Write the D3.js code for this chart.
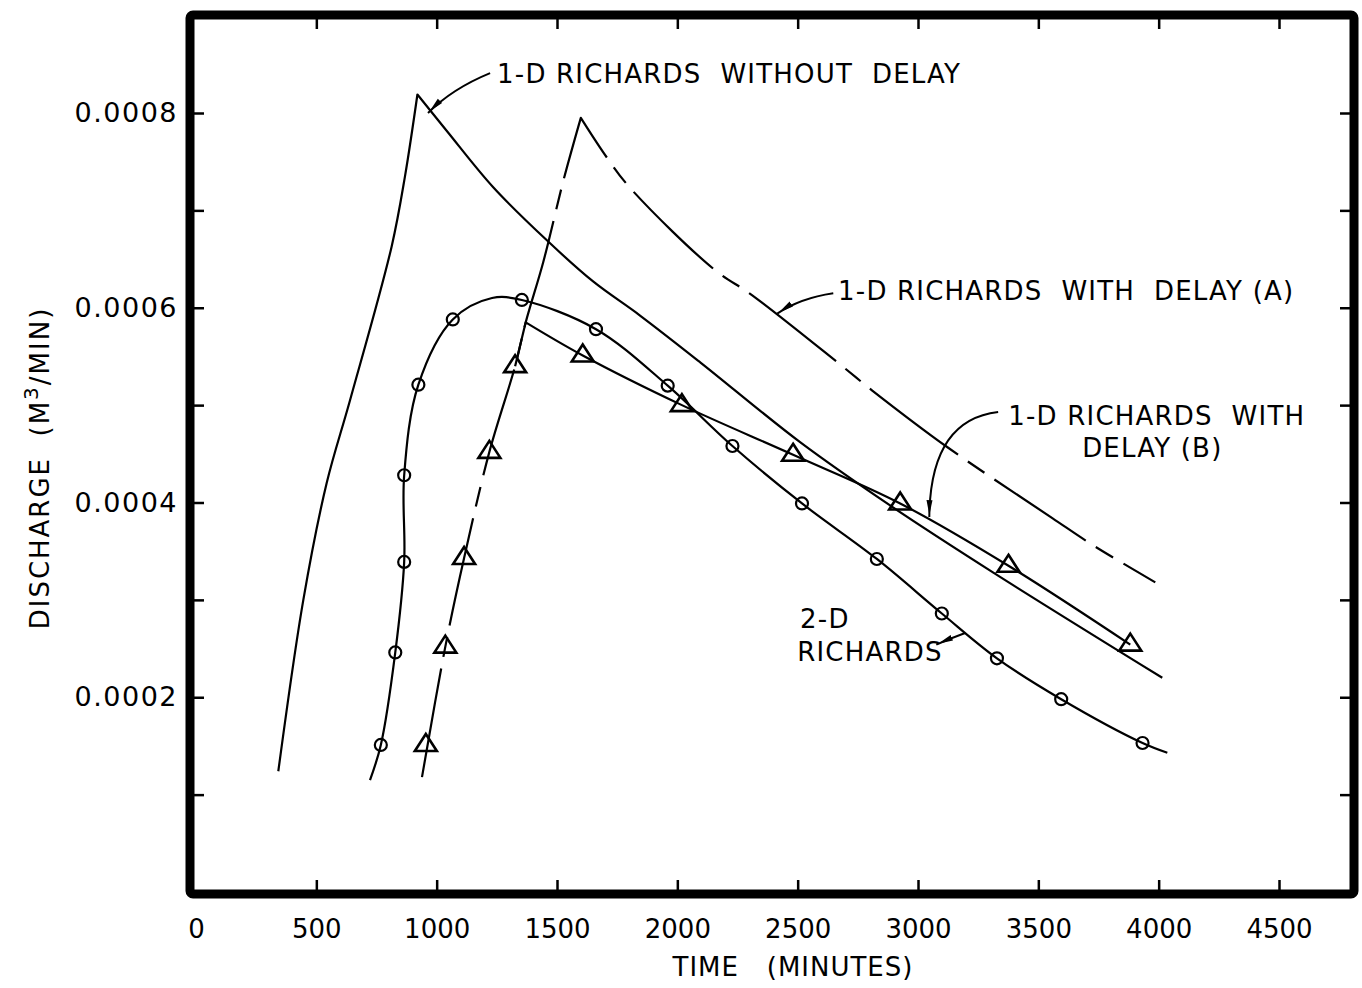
<!DOCTYPE html>
<html>
<head>
<meta charset="utf-8">
<script src="https://cdn.jsdelivr.net/npm/d3@7"></script>
<style>
  body { margin: 0; background: #fff; }
  svg text { font-family: "DejaVu Sans", sans-serif; fill: #000; white-space: pre; }
</style>
</head>
<body>
<svg id="chart" width="1362" height="988"></svg>
<script>
// time (minutes), discharge (m3/min)
var noDelay = [
  [342, 0.000124], [446, 0.000300], [543, 0.000420], [640, 0.000505], [813, 0.000663],
  [869, 0.000736], [920, 0.000819], [1044, 0.000781], [1234, 0.000724], [1459, 0.000669],
  [1650, 0.000627], [1845, 0.000592], [2095, 0.000544], [2510, 0.000462], [2884, 0.000397],
  [3313, 0.000328], [4015, 0.000220]
];

var delayA = [
  [939, 0.000118], [1036, 0.000252], [1114, 0.000343], [1219, 0.000452], [1326, 0.000540],
  [1370, 0.000585], [1443, 0.000647], [1527, 0.000731], [1599, 0.000795], [1708, 0.000754],
  [1804, 0.000723], [2150, 0.000640], [2310, 0.000613], [2670, 0.000543], [2810, 0.000515],
  [3121, 0.000457], [3558, 0.000384], [3728, 0.000356], [3986, 0.000318]
];

// delay (B): the rise runs along the dashed (A) line, only the fall is drawn solid
var delayBRise = [[955, 0.000151], [1036, 0.000252], [1114, 0.000343], [1219, 0.000452], [1326, 0.000540]];
var delayBPeak = [1370, 0.000585];
var delayBFall = [[1607, 0.000551], [2019, 0.000500], [2481, 0.000449], [2926, 0.000399], [3376, 0.000335], [3882, 0.000254]];

// 2-D richards: [time, discharge, has marker]
var twoD = [
  [723, 0.000115, 0], [768, 0.000151, 1], [828, 0.000246, 1], [865, 0.000339, 1], [865, 0.000428, 1],
  [924, 0.000521, 1], [1067, 0.000588, 1], [1230, 0.000610, 0], [1354, 0.000608, 1], [1662, 0.000578, 1],
  [1960, 0.000520, 1], [2229, 0.000458, 1], [2518, 0.000399, 1], [2829, 0.000342, 1], [3099, 0.000286, 1],
  [3328, 0.000240, 1], [3595, 0.000198, 1], [3933, 0.000153, 1], [4036, 0.000143, 0]
];

var xTicks = [0, 500, 1000, 1500, 2000, 2500, 3000, 3500, 4000, 4500];
var yTicks = [0.0001, 0.0002, 0.0003, 0.0004, 0.0005, 0.0006, 0.0007, 0.0008];
var yLabelled = [0.0002, 0.0004, 0.0006, 0.0008];

var svg = d3.select("#chart");
var frame = {left: 190, top: 15, right: 1354, bottom: 894};

var x = d3.scaleLinear().domain([0, 4500]).range([196, 1279]);
var y = d3.scaleLinear().domain([0, 0.0008]).range([892, 113]);

var defs = svg.append("defs");
defs.append("marker")
    .attr("id", "arrow")
    .attr("viewBox", "0 -4 15 8")
    .attr("refX", 17).attr("refY", 0)
    .attr("markerWidth", 15).attr("markerHeight", 8)
    .attr("markerUnits", "userSpaceOnUse")
    .attr("orient", "auto")
  .append("path")
    .attr("d", "M0,-3L15,0L0,3Z")
    .attr("fill", "#000");

// axes: ticks point inward, frame drawn on top
function tidy(g) {
  g.select(".domain").remove();
  g.selectAll(".tick line").attr("stroke-width", 2.5);
}

svg.append("g")
    .attr("transform", "translate(" + frame.left + ",0)")
    .call(d3.axisLeft(y).tickValues(yTicks).tickSize(-14).tickPadding(12)
      .tickFormat(function(d) {
        return yLabelled.some(function(v) { return Math.abs(v - d) < 1e-9; }) ? d.toFixed(4) : "";
      }))
    .call(tidy)
    .selectAll("text")
    .style("font-size", "27px")
    .style("letter-spacing", "1.5px");

svg.append("g")
    .attr("transform", "translate(" + frame.right + ",0)")
    .call(d3.axisRight(y).tickValues(yTicks).tickSize(-14).tickFormat(""))
    .call(tidy);

var bottom = svg.append("g")
    .attr("transform", "translate(0," + frame.bottom + ")")
    .call(d3.axisBottom(x).tickValues(xTicks).tickSize(-14).tickPadding(26).tickFormat(d3.format("d")))
    .call(tidy);
bottom.selectAll(".tick").filter(function(d) { return d === 0; }).select("line").remove();
bottom.selectAll("text").style("font-size", "26px");

svg.append("g")
    .attr("transform", "translate(0," + frame.top + ")")
    .call(d3.axisTop(x).tickValues(xTicks.slice(1)).tickSize(-14).tickFormat(""))
    .call(tidy);

svg.append("rect")
    .attr("x", frame.left).attr("y", frame.top)
    .attr("width", frame.right - frame.left)
    .attr("height", frame.bottom - frame.top)
    .attr("rx", 3)
    .attr("fill", "none")
    .attr("stroke", "#000")
    .attr("stroke-width", 9);

// curves
var smooth = d3.line()
    .x(function(d) { return x(d[0]); })
    .y(function(d) { return y(d[1]); })
    .curve(d3.curveCatmullRom.alpha(0.5));

// rise and fall joined in one path so the peak stays sharp
function peakPath(arr) {
  var i = d3.maxIndex(arr, function(d) { return d[1]; });
  var up = smooth(arr.slice(0, i + 1));
  var down = smooth(arr.slice(i));
  return up + "L" + down.slice(1);
}

function curve(d, dash) {
  svg.append("path")
      .attr("d", d)
      .attr("fill", "none")
      .attr("stroke", "#000")
      .attr("stroke-width", 2.2)
      .attr("stroke-linejoin", "round")
      .attr("stroke-dasharray", dash || null);
}

curve(peakPath(noDelay));
curve(peakPath(delayA), "110,12,20,12");
curve(peakPath([delayBRise[delayBRise.length - 1], delayBPeak].concat(delayBFall)));
curve(smooth(twoD.map(function(d) { return [d[0], d[1]]; })));

// markers
svg.append("g").selectAll("circle")
    .data(twoD.filter(function(d) { return d[2]; }))
    .enter().append("circle")
    .attr("cx", function(d) { return x(d[0]); })
    .attr("cy", function(d) { return y(d[1]); })
    .attr("r", 6)
    .attr("fill", "none")
    .attr("stroke", "#000")
    .attr("stroke-width", 2.2);

svg.append("g").selectAll("path")
    .data(delayBRise.concat(delayBFall))
    .enter().append("path")
    .attr("transform", function(d) { return "translate(" + x(d[0]) + "," + y(d[1]) + ")"; })
    .attr("d", "M0,-11L11,6L-11,6Z")
    .attr("fill", "none")
    .attr("stroke", "#000")
    .attr("stroke-width", 2.6)
    .attr("stroke-linejoin", "miter");

// labels with leaders (positions in data units)
var notes = [
  {text: [["1-D RICHARDS  WITHOUT  DELAY", 1251, 0.000831]],
   leader: [[1222, 0.000841], [1064, 0.000825], [964, 0.000800]]},
  {text: [["1-D RICHARDS  WITH  DELAY (A)", 2668, 0.000608]],
   leader: [[2648, 0.000615], [2510, 0.000610], [2415, 0.000594]]},
  {text: [["1-D RICHARDS  WITH", 3375, 0.0004795], ["DELAY (B)", 3682, 0.0004466]],
   leader: [[3333, 0.000493], [3051, 0.000485], [3047, 0.000385]]},
  {text: [["2-D", 2510, 0.000271], ["RICHARDS", 2498, 0.000237]],
   leader: [[3196, 0.000266], [3140, 0.000261], [3076, 0.000254]]}
];

notes.forEach(function(n) {
  n.text.forEach(function(t) {
    svg.append("text")
        .attr("x", x(t[1])).attr("y", y(t[2]))
        .attr("xml:space", "preserve")
        .style("font-size", "26px")
        .style("letter-spacing", "1.2px")
        .text(t[0]);
  });
  var p = n.leader;
  svg.append("path")
      .attr("d", "M" + x(p[0][0]) + "," + y(p[0][1]) +
                 "Q" + x(p[1][0]) + "," + y(p[1][1]) +
                 " " + x(p[2][0]) + "," + y(p[2][1]))
      .attr("fill", "none")
      .attr("stroke", "#000")
      .attr("stroke-width", 2)
      .attr("marker-end", "url(#arrow)");
});

// axis titles
svg.append("text")
    .attr("x", 793).attr("y", 976)
    .attr("text-anchor", "middle")
    .attr("xml:space", "preserve")
    .style("font-size", "26px")
    .style("letter-spacing", "1px")
    .text("TIME   (MINUTES)");

var yt = svg.append("text")
    .attr("transform", "translate(49,468) rotate(-90)")
    .attr("text-anchor", "middle")
    .attr("xml:space", "preserve")
    .style("font-size", "26px")
    .style("letter-spacing", "2px");
yt.append("tspan").text("DISCHARGE  (M");
yt.append("tspan").attr("dy", -11).style("font-size", "20px").text("3");
yt.append("tspan").attr("dy", 11).text("/MIN)");
</script>
</body>
</html>
